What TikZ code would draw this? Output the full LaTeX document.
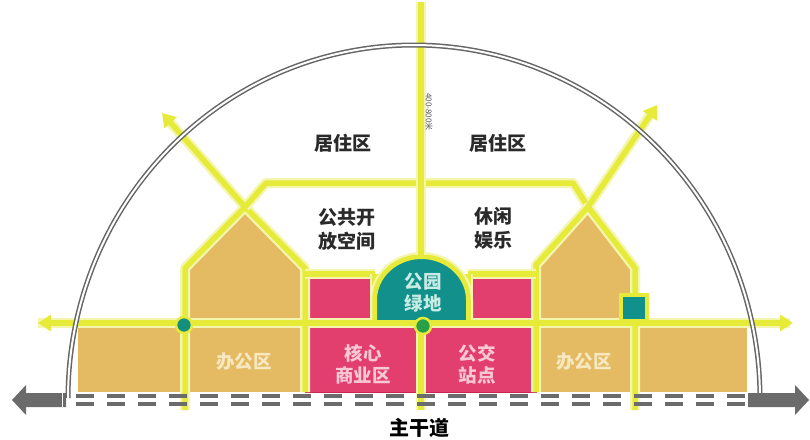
\documentclass[tikz,border=0pt]{standalone}
\usepackage{fontspec}
\newfontfamily\cjk{Noto Sans CJK SC}
\usetikzlibrary{arrows.meta}
\definecolor{landtan}{HTML}{E4BA62}
\definecolor{landpink}{HTML}{E23E6E}
\definecolor{pinkedge}{HTML}{C8284F}
\definecolor{landteal}{HTML}{12908C}
\definecolor{roady}{HTML}{E6EB3A}
\definecolor{roadglow}{HTML}{F4F6B0}
\definecolor{arcgray}{HTML}{666666}
\definecolor{roadgray}{HTML}{6B6B6B}
\definecolor{dotteal}{HTML}{178F7E}
\definecolor{dotgreen}{HTML}{27A048}
\definecolor{pinktext}{HTML}{F8C8D5}
\definecolor{tealtext}{HTML}{C8ECE4}
\definecolor{tantext}{HTML}{F7E8C0}
\definecolor{labdark}{HTML}{2A2A2A}
\begin{document}
\begin{tikzpicture}[x=1pt,y=-1pt,
  yl/.style={draw=roady,line width=5.5pt,line join=round,preaction={draw=roadglow,line width=10pt,line join=round}},
  ylarrow/.style={draw=roady,line width=5.5pt,-{Triangle[length=13pt,width=16pt]}},
  ylglow/.style={draw=roadglow,line width=10pt},
  lab/.style={font=\cjk\bfseries\fontsize{19}{24}\selectfont,text=labdark,align=center,inner sep=0pt},
  inlab/.style={font=\cjk\bfseries\fontsize{18.5}{22}\selectfont,align=center,inner sep=0pt},
  block/.style={fill=landpink,draw=pinkedge,line width=0.8pt}]
\fill[white] (0,0) rectangle (810,439);
\useasboundingbox (0,0) rectangle (810,439);
% land blocks
\fill[landtan] (78,323) rectangle (305,392);
\fill[landtan] (185,323) -- (185,268) -- (245,207) -- (305,268) -- (305,323) -- cycle;
\fill[landtan] (536,323) rectangle (747,392);
\fill[landtan] (536,323) -- (536,265) -- (588,207) -- (635,268) -- (635,323) -- cycle;
\path[block] (305,274) rectangle (375,323);
\path[block] (468,274) rectangle (536,323);
\path[block] (305,323) rectangle (421,392);
\path[block] (421,323) rectangle (536,392);
% yellow road network: glow
\draw[ylglow] (38,323) -- (790,323);
\draw[ylglow] (245,207) -- (168,120);
\draw[ylglow] (588,207) -- (652,112);
% yellow road network
\draw[yl] (185,410) -- (185,268) -- (245,207) -- (305,268) -- (305,392);
\draw[yl] (245,207) -- (266,183) -- (573,183) -- (588,207);
\draw[yl] (536,392) -- (536,265) -- (588,207) -- (635,268) -- (635,410);
\draw[yl] (305,274) -- (375,274);
\draw[yl] (468,274) -- (536,274);
\draw[yl] (375,274) -- (375,323);
\draw[yl] (468,274) -- (468,323);
\draw[yl] (375,323) -- (375,300) -- plot[domain=180:360,samples=60] ({421.5+46.5*cos(\x)},{300+43*sin(\x)}) -- (468,323);
\draw[yl] (421,2) -- (421,257);
\draw[yl] (421,323) -- (421,410);
% park dome
\fill[landteal] (375,323) -- (375,300) -- plot[domain=180:360,samples=60] ({421.5+46.5*cos(\x)},{300+43*sin(\x)}) -- (468,323) -- cycle;
\draw[roady,line width=4pt] (375,323) -- (375,300) -- plot[domain=180:360,samples=60] ({421.5+46.5*cos(\x)},{300+43*sin(\x)}) -- (468,323);
\draw[ylarrow,{Triangle[length=13pt,width=16pt]}-{Triangle[length=13pt,width=16pt]}] (38,323) -- (793,323);
\draw[ylarrow] (245,207) -- (162,113);
\draw[ylarrow] (588,207) -- (657,105);
% teal square
\filldraw[fill=landteal,draw=roady,line width=4pt] (621,295) rectangle (647,321);
% arch
\draw[arcgray,line width=1.5pt,double=white,double distance=2pt]
  plot[domain=180:360,samples=150] ({414+346*cos(\x)},{398+353*sin(\x)});
% main road
\fill[roadgray] (12,400) -- (26,385) -- (26,393) -- (66,393) -- (66,407) -- (26,407) -- (26,415) -- cycle;
\fill[roadgray] (809,400) -- (795,385) -- (795,393) -- (748,393) -- (748,407) -- (795,407) -- (795,415) -- cycle;
\draw[white,line width=1pt] (62,393) -- (62,407) (71,393) -- (71,407);
\draw[roadgray,line width=4pt,dash pattern=on 18pt off 13pt] (76,396) -- (748,396);
\draw[roadgray,line width=4pt,dash pattern=on 18pt off 13pt] (76,404) -- (748,404);
% dots
\filldraw[fill=dotteal,draw=roady,line width=2.5pt] (184,325) circle[radius=8pt];
\filldraw[fill=dotgreen,draw=roady,line width=2.5pt] (423,326) circle[radius=8pt];
% labels
\node[lab] (res1) at (343,143) {居住区};
\node[lab] (res2) at (498,143) {居住区};
\node[lab] (open) at (347,229) {公共开\\放空间};
\node[lab] (leis) at (493,228) {休闲\\娱乐};
\node[inlab,text=tealtext] (park) at (423,293) {公园\\绿地};
\node[inlab,text=pinktext] (core) at (363,364) {核心\\商业区};
\node[inlab,text=pinktext] (bus) at (477,364) {公交\\站点};
\node[inlab,text=tantext] (off1) at (244,362) {办公区};
\node[inlab,text=tantext] (off2) at (584,362) {办公区};
\node[font=\cjk\bfseries\fontsize{20}{22}\selectfont,text=black,inner sep=0pt] (road) at (419,428) {主干道};
\node[font=\cjk\fontsize{8}{9}\selectfont,text=labdark!80,rotate=-90,inner sep=0pt] (dist) at (429,112) {400-800米};
\end{tikzpicture}
\end{document}
